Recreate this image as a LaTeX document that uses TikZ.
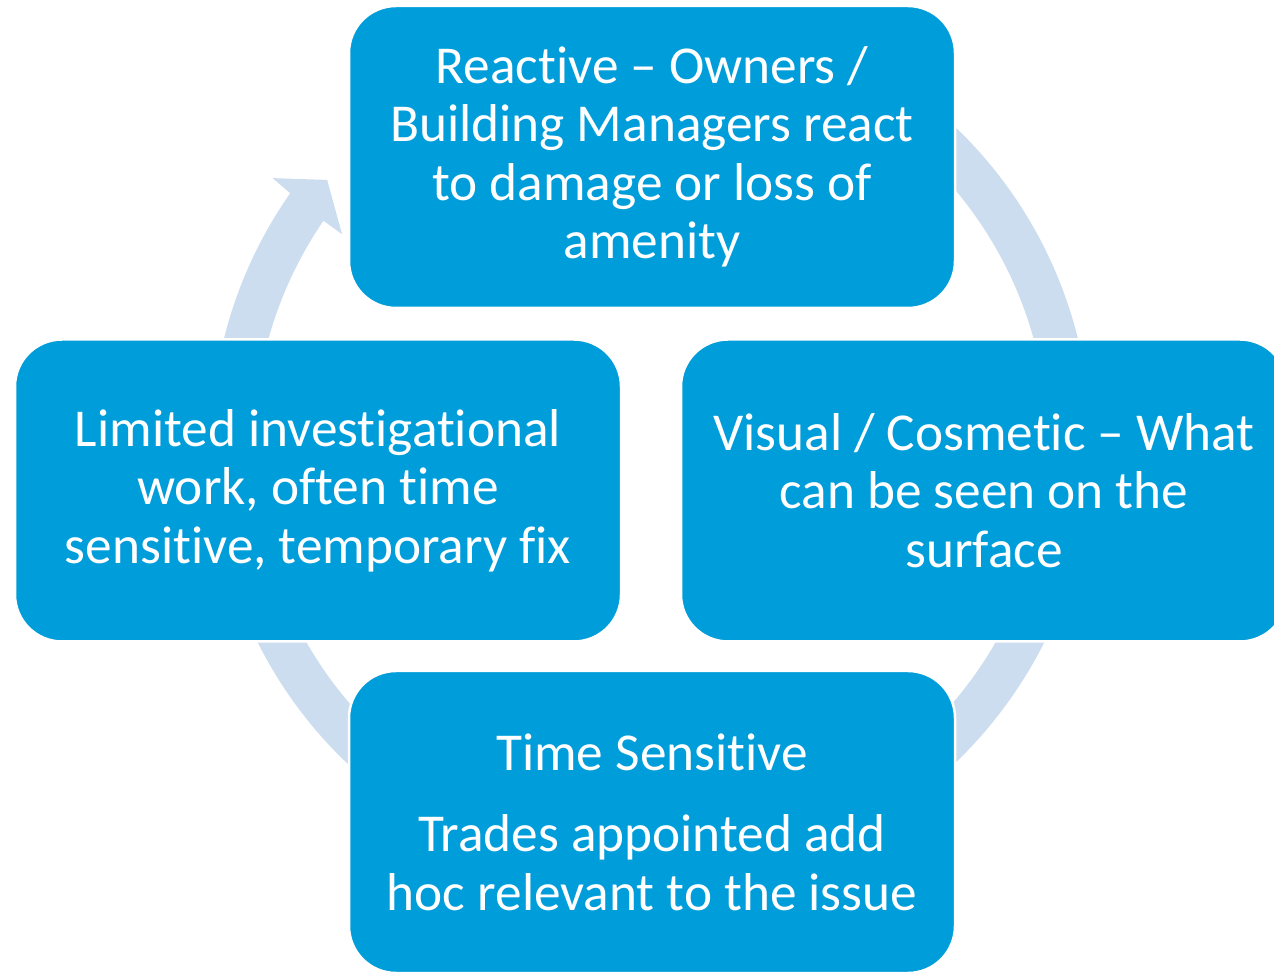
\documentclass[tikz,border=0pt]{standalone}
\usepackage{fontspec}
\setmainfont{Carlito}[Ligatures=NoCommon]
\definecolor{boxblue}{RGB}{0,157,219}
\definecolor{ringblue}{RGB}{204,221,240}
\begin{document}
\begin{tikzpicture}[x=1pt,y=1pt,
  box/.style={fill=boxblue, draw=white, line width=2.5pt, rounded corners=47pt,
    minimum width=606pt, minimum height=302pt, inner sep=0pt,
    text=white, align=center, font=\fontsize{53.3}{58.5}\selectfont}]
\useasboundingbox (0,0) rectangle (1274,972);
\clip (0,0) rectangle (1274,972);
% circular arrow running clockwise behind the four steps
\begin{scope}[shift={(651,527)}]
  \fill[ringblue]
    (145.6:397) -- (145.7:374) -- (140.7:418.5) -- (144.8:463) -- (145.1:440)
    arc[start angle=145.1, end angle=450, radius=440]
    -- (450:397)
    arc[start angle=450, end angle=145.6, radius=397] -- cycle;
\end{scope}
% the four steps of the cycle
\node[box] (reactive) at (652,815)
  {Reactive – Owners /\\Building Managers react\\to damage or loss of\\amenity};
\node[box] (visual) at (984,481.5)
  {Visual / Cosmetic – What\\can be seen on the\\surface};
\node[box] (time) at (652,150)
  {Time Sensitive\\[23pt]Trades appointed add\\hoc relevant to the issue};
\node[box] (limited) at (318,481.5)
  {Limited investigational\\work, often time\\sensitive, temporary fix};
\end{tikzpicture}
\end{document}
